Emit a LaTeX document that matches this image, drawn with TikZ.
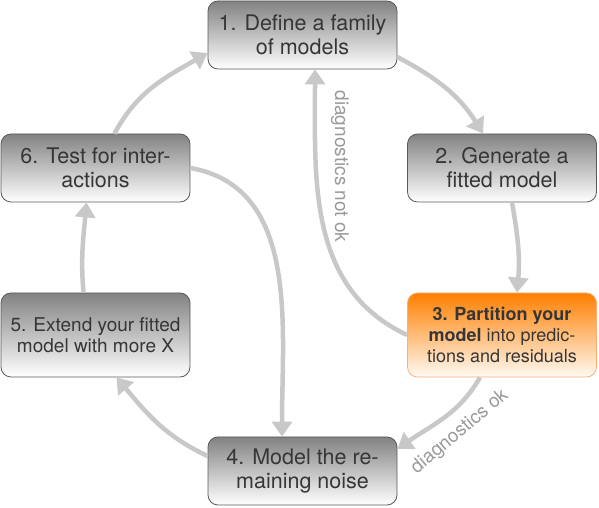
\documentclass[tikz,border=0pt]{standalone}
\usepackage{fontspec}
\setmainfont{TeX Gyre Heros}
\usetikzlibrary{positioning, arrows.meta}

\definecolor{boxtop}{HTML}{828282}
\definecolor{boxline}{HTML}{5A5A5A}
\definecolor{hottop}{HTML}{FF7F00}
\definecolor{hotbottom}{HTML}{FFFAF3}
\definecolor{hotline}{HTML}{F2B27A}
\definecolor{flow}{HTML}{C8C8C8}
\definecolor{boxtext}{HTML}{363636}
\definecolor{notetext}{HTML}{9A9A9A}

\begin{document}
\begin{tikzpicture}[on grid, >={Triangle[length=15pt, width=20pt]}]
    \tikzset{
        stage/.style={draw=boxline, line width=0.8pt, rounded corners=10pt,
            top color=boxtop, bottom color=white, text=boxtext, align=center,
            minimum width=189pt, minimum height=68pt, inner sep=0pt,
            font=\fontsize{21.5}{24}\selectfont},
        hot/.style={stage, draw=hotline, top color=hottop, bottom color=hotbottom,
            minimum height=84pt, font=\fontsize{18}{21}\selectfont},
        flowline/.style={->, color=flow, line width=4.5pt},
        note/.style={text=notetext, inner sep=0pt, font=\fontsize{19}{21}\selectfont}
    }
    \useasboundingbox (0,0) rectangle (599pt,508pt);

    % STAGES
    \node[stage] (define) at (302.5pt,473pt) {1. Define a family\\of models};
    \node[stage] (fit) [below right=133pt and 199.5pt of define] {2. Generate a\\fitted model};
    \node[hot] (partition) [below=167pt of fit] {\textbf{3. Partition your}\\\textbf{model} into predic-\\tions and residuals};
    \node[stage] (noise) [below=436pt of define] {4. Model the re-\\maining noise};
    \node[stage] (test) [below left=133pt and 207pt of define] {6. Test for inter-\\actions};
    \node[stage, minimum height=84pt, font=\fontsize{19}{21}\selectfont] (extend) [below=167pt of test] {5. Extend your fitted\\model with more X};

    % FLOW
    \path[flowline]
        ([yshift=-22pt]define.east) edge[out=-28, in=122] ([xshift=-19pt]fit.north)
        ([xshift=10pt]fit.south) edge[out=-80, in=85] ([xshift=15pt]partition.north)
        ([xshift=-22pt]partition.south) edge[out=-120, in=35]
            node[note, pos=0.5, shift={(16pt,-14pt)}, rotate=40] {diagnostics ok}
            ([yshift=22pt]noise.east)
        (partition.west) edge[out=155, in=-90]
            node[note, pos=0.7, xshift=24pt, rotate=-90] {diagnostics not ok}
            ([xshift=12.5pt]define.south)
        ([yshift=15pt]noise.west) edge[out=155, in=-50] ([xshift=21pt]extend.south)
        ([xshift=-12pt]extend.north) edge[out=95, in=-95] ([xshift=-9pt]test.south)
        ([xshift=19pt]test.north) edge[out=62, in=-150] ([yshift=-18pt]define.west)
        (test.east) edge[out=-10, in=90] ([xshift=-20.5pt]noise.north);
\end{tikzpicture}
\end{document}
